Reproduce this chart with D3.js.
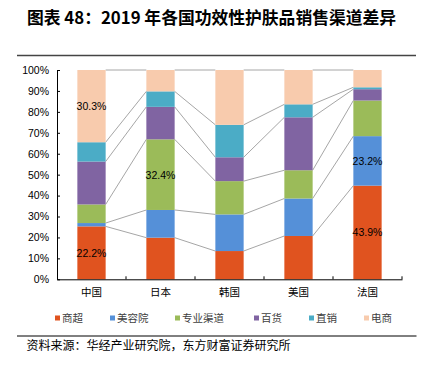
<!DOCTYPE html>
<html><head><meta charset="utf-8">
<script src="https://cdn.jsdelivr.net/npm/d3@7"></script>
<style>html,body{margin:0;padding:0;background:#fff;}svg{display:block;}</style>
</head><body>
<svg id="c" width="429" height="372"></svg>
<script>
// Data (raw shares, %; chart is normalised to 100%)
const categories = ["中国", "日本", "韩国", "美国", "法国"];
const seriesNames = ["商超", "美容院", "专业渠道", "百货", "直销", "电商"];
const seriesColors = ["#E0531F", "#5590D8", "#9BBB59", "#8064A2", "#4BACC6", "#F8CBAD"];
const shangchao   = [22.2, 19.1, 13.5, 20.7, 43.9];
const meirongyuan = [1.4, 12.7, 17.5, 17.9, 23.2];
const zhuanye     = [7.8, 32.4, 15.9, 13.5, 16.7];
const baihuo      = [18.0, 14.9, 11.4, 25.3, 5.3];
const zhixiao     = [8.1, 7.1, 15.5, 6.2, 0.9];
const dianshang   = [30.3, 9.8, 26.2, 16.4, 8.1];
const yTicks = [0, 0.1, 0.2, 0.3, 0.4, 0.5, 0.6, 0.7, 0.8, 0.9, 1.0];
// labels shown: [category index, series index]
const shownLabels = [[0, 0], [0, 5], [1, 2], [4, 0], [4, 1]];

const seriesValues = [shangchao, meirongyuan, zhuanye, baihuo, zhixiao, dianshang];
const table = categories.map((c, i) => {
  const o = {cat: c};
  seriesNames.forEach((s, j) => o[s] = seriesValues[j][i]);
  return o;
});

const svg = d3.select("#c");
const L = 57, R = 402, T = 70, B = 279.3;

const x = d3.scaleBand().domain(categories).range([L, R]).paddingInner(0.59).paddingOuter(0.295);
const y = d3.scaleLinear().domain([0, 1]).range([B, T]);

const stacked = d3.stack().keys(seriesNames).offset(d3.stackOffsetExpand)(table);

// Title
svg.append("text").attr("x", 27).attr("y", 24)
  .attr("font-family", "'Noto Sans CJK SC', sans-serif").attr("font-weight", "bold")
  .attr("font-size", 16.8).attr("fill", "#000")
  .text("图表 48：2019 年各国功效性护肤品销售渠道差异");

// top rule
svg.append("line").attr("x1", 17).attr("x2", 416).attr("y1", 55.5).attr("y2", 55.5)
  .attr("stroke", "#444").attr("stroke-width", 1.3);

// connector lines
const connG = svg.append("g");
stacked.forEach(s => {
  for (let i = 0; i < categories.length - 1; i++) {
    connG.append("line")
      .attr("x1", x(categories[i]) + x.bandwidth()).attr("y1", y(s[i][1]))
      .attr("x2", x(categories[i + 1])).attr("y2", y(s[i + 1][1]))
      .attr("stroke", "#A6A6A6").attr("stroke-width", 1);
  }
});

// bars
stacked.forEach((s, j) => {
  svg.append("g").selectAll("rect").data(s).join("rect")
    .attr("x", d => x(d.data.cat)).attr("width", x.bandwidth())
    .attr("y", d => y(d[1])).attr("height", d => y(d[0]) - y(d[1]))
    .attr("fill", seriesColors[j]);
});

// value labels
shownLabels.forEach(([ci, si]) => {
  const d = stacked[si][ci];
  svg.append("text")
    .attr("x", x(categories[ci]) + x.bandwidth() / 2)
    .attr("y", y((d[0] + d[1]) / 2) + 4)
    .attr("text-anchor", "middle")
    .attr("font-family", "Arial, 'Liberation Sans', sans-serif").attr("font-size", 10.5)
    .attr("fill", "#000")
    .text(seriesValues[si][ci].toFixed(1) + "%");
});

// y axis
const yAxis = d3.axisLeft(y).tickValues(yTicks).tickFormat(d3.format(".0%")).tickSizeInner(-3).tickSizeOuter(0).tickPadding(8);
const yg = svg.append("g").attr("transform", `translate(${L},0)`).call(yAxis);
yg.select(".domain").attr("stroke", "#000");
yg.selectAll(".tick line").attr("stroke", "#000");
yg.selectAll("text").attr("font-family", "Arial, 'Liberation Sans', sans-serif").attr("font-size", 10.5).attr("fill", "#000");

// x axis
const xAxis = d3.axisBottom(x).tickSize(0).tickPadding(9);
const xg = svg.append("g").attr("transform", `translate(0,${B})`).call(xAxis);
xg.select(".domain").attr("stroke", "#000");
xg.selectAll("text").attr("font-family", "'Noto Sans CJK SC', sans-serif").attr("font-size", 10.5).attr("fill", "#000");
// band boundary ticks (inward)
const step = x.step();
for (let i = 1; i < categories.length; i++) {
  const bx = L + step * i;
  svg.append("line").attr("x1", bx).attr("x2", bx).attr("y1", B).attr("y2", B - 3).attr("stroke", "#000");
}
svg.append("line").attr("x1", R).attr("x2", R).attr("y1", B).attr("y2", B - 3).attr("stroke", "#000");

// legend
const legendX = [55, 110, 175, 254, 309, 364];
const lg = svg.append("g");
seriesNames.forEach((n, j) => {
  lg.append("rect").attr("x", legendX[j]).attr("y", 315.5).attr("width", 5).attr("height", 5).attr("fill", seriesColors[j]);
  lg.append("text").attr("x", legendX[j] + 7).attr("y", 322)
    .attr("font-family", "'Noto Sans CJK SC', sans-serif").attr("font-size", 10.5).attr("fill", "#404040").text(n);
});

// bottom rule
svg.append("line").attr("x1", 17).attr("x2", 416.5).attr("y1", 336).attr("y2", 336)
  .attr("stroke", "#000").attr("stroke-width", 1);

// source
svg.append("text").attr("x", 26.5).attr("y", 349.5)
  .attr("font-family", "'Noto Sans CJK SC', sans-serif").attr("font-size", 12).attr("fill", "#000")
  .text("资料来源：华经产业研究院，东方财富证券研究所");
</script>
</body></html>
